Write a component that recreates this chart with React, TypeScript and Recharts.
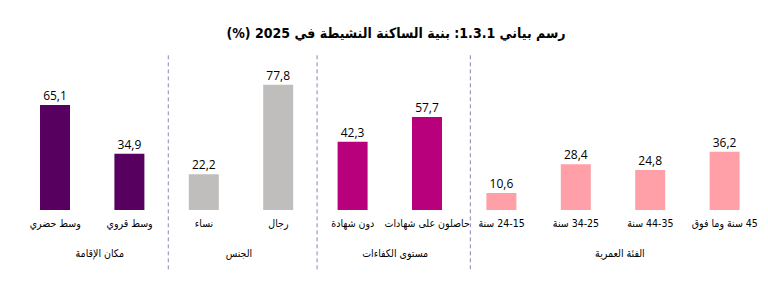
import React from "react";
import { BarChart, Bar, XAxis, YAxis, Cell, LabelList, ReferenceLine, Customized } from "recharts";

const categories = [
  "وسط حضري",
  "وسط قروي",
  "نساء",
  "رجال",
  "دون شهادة",
  "حاصلون على شهادات",
  "24-15 سنة",
  "34-25 سنة",
  "44-35 سنة",
  "45 سنة وما فوق",
];
const values = [65.1, 34.9, 22.2, 77.8, 42.3, 57.7, 10.6, 28.4, 24.8, 36.2];
const groupOfCategory = [0, 0, 1, 1, 2, 2, 3, 3, 3, 3];
const groupNames = ["مكان الإقامة", "الجنس", "مستوى الكفاءات", "الفئة العمرية"];
const groupLabelPos = [0.6, 2.47, 4.57, 7.59];
const separators = [1.52, 3.52, 5.58];
const groupColors = ["#57005F", "#BFBEBC", "#B8007C", "#FFA0A8"];
const titleText = "رسم بياني 1.3.1: بنية الساكنة النشيطة في 2025 (%)";

const data = categories.map((c, i) => ({ idx: i, name: c, value: values[i] }));
const fmt = (v: number) => v.toFixed(1).replace(".", ",");
const FONT = "'DejaVu Sans Condensed', 'DejaVu Sans', sans-serif";
const NUMFONT = "'Open Sans', 'Noto Sans', sans-serif";

const RtlTick = (props: any) => {
  const { x, y, payload, fmtFn } = props;
  return (
    <text
      x={x}
      y={y}
      dy={9}
      textAnchor="middle"
      direction="rtl"
      style={{ unicodeBidi: "plaintext" } as any}
      fontSize={10.5}
      fill="#000"
      fontFamily={FONT}
    >
      {fmtFn(payload.value)}
    </text>
  );
};

const Title = () => (
  <text
    x={396}
    y={38}
    textAnchor="middle"
    direction="rtl"
    fontSize={14}
    fontWeight={700}
    fill="#000"
    fontFamily={FONT}
  >
    {titleText}
  </text>
);

export default function App() {
  return (
    <div style={{ position: "absolute", left: 0, top: 0, width: 768, height: 283, background: "#fff" }}>
      <BarChart
        width={768}
        height={283}
        data={data}
        margin={{ top: 65, right: 6, left: 18, bottom: 3 }}
      >
        <YAxis hide domain={[0, 90]} type="number" />
        <XAxis
          dataKey="idx"
          type="number"
          domain={[-0.5, 9.5]}
          ticks={data.map((d) => d.idx)}
          interval={0}
          axisLine={false}
          tickLine={false}
          height={30}
          tick={<RtlTick fmtFn={(v: number) => categories[v]} />}
        />
        <XAxis
          xAxisId="g"
          dataKey="idx"
          type="number"
          domain={[-0.5, 9.5]}
          ticks={groupLabelPos}
          interval={0}
          axisLine={false}
          tickLine={false}
          height={40}
          tick={<RtlTick fmtFn={(v: number) => groupNames[groupLabelPos.indexOf(v)]} />}
        />
        {separators.map((s) => (
          <ReferenceLine
            key={s}
            ifOverflow="visible"
            segment={[
              { x: s, y: 96 },
              { x: s, y: -38.5 },
            ]}
            stroke="#8C86B8"
            strokeDasharray="4 3"
            strokeWidth={1}
          />
        ))}
        <Bar dataKey="value" barSize={30} isAnimationActive={false}>
          {data.map((d, i) => (
            <Cell key={i} fill={groupColors[groupOfCategory[i]]} />
          ))}
          <LabelList
            dataKey="value"
            position="top"
            formatter={(v: any) => fmt(Number(v))}
            style={{ fontSize: 12, fill: "#000", fontFamily: NUMFONT }}
          />
        </Bar>
        <Customized component={Title} />
      </BarChart>
    </div>
  );
}
